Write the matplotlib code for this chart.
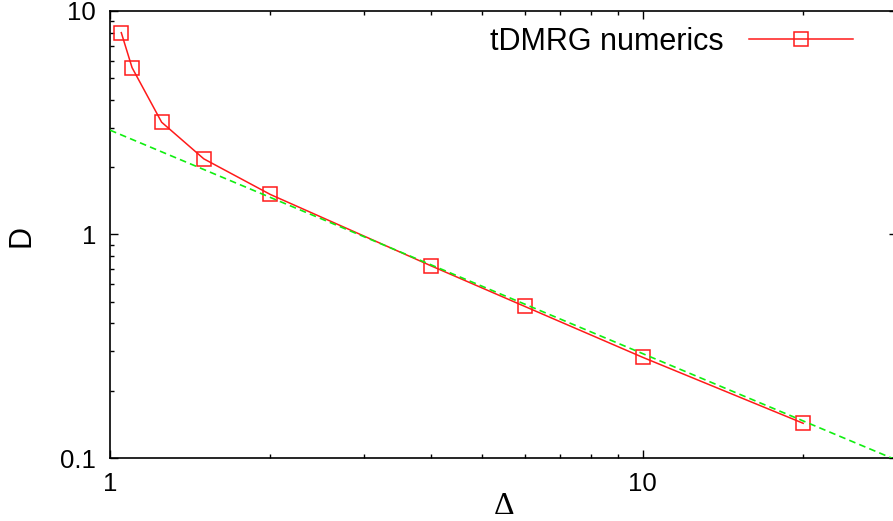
import matplotlib
matplotlib.use("Agg")
import matplotlib.pyplot as plt
import numpy as np
from matplotlib.ticker import LogLocator, FixedLocator, NullFormatter, FixedFormatter

# data
delta = [1.05, 1.1, 1.25, 1.5, 2.0, 4.0, 6.0, 10.0, 20.0]
D_vals = [8.0, 5.58, 3.18, 2.18, 1.51, 0.725, 0.477, 0.282, 0.143]
fit_a = 2.93
fit_x = [1.0, 30.0]
xticks = [1, 10]
xticklabels = ["1", "10"]
yticks = [0.1, 1, 10]
yticklabels = ["0.1", "1", "10"]

W, H = 893, 521
plt.rcParams['font.family'] = ['Liberation Sans', 'DejaVu Sans']
fig = plt.figure(figsize=(W / 100, H / 100), dpi=100)
ax = fig.add_axes([110 / W, 1 - 458 / H, (897 - 110) / W, (458 - 11) / H])

ax.plot(delta, D_vals, color='#ff1a1a', lw=1.1, marker='s', markersize=9.5,
        markerfacecolor='none', markeredgecolor='#ff1a1a', markeredgewidth=1.1,
        label='tDMRG numerics', zorder=3)
fx = np.array(fit_x)
ax.plot(fx, fit_a / fx, color='#11ee11', lw=1.2, linestyle=(0, (4, 2.5)), zorder=4)

ax.set_xscale('log')
ax.set_yscale('log')
ax.set_xlim(1, 30)
ax.set_ylim(0.1, 10)

ax.xaxis.set_major_locator(FixedLocator(xticks))
ax.xaxis.set_major_formatter(FixedFormatter(xticklabels))
ax.yaxis.set_major_locator(FixedLocator(yticks))
ax.yaxis.set_major_formatter(FixedFormatter(yticklabels))
ax.xaxis.set_minor_locator(LogLocator(base=10, subs=np.arange(2, 10)))
ax.yaxis.set_minor_locator(LogLocator(base=10, subs=np.arange(2, 10)))
ax.xaxis.set_minor_formatter(NullFormatter())
ax.yaxis.set_minor_formatter(NullFormatter())

ax.tick_params(which='both', direction='in', top=True, right=True, width=1.0)
ax.tick_params(which='major', length=6, labelsize=18.5)
ax.tick_params(which='minor', length=3)
ax.tick_params(axis='x', which='major', pad=10)
ax.tick_params(axis='y', which='major', pad=10)
for s in ax.spines.values():
    s.set_linewidth(1.2)

fig.text(37 / W, 1 - 236 / H, 'D', rotation=90, ha='right', va='center', fontsize=22)
fig.text(504 / W, 1 - 514 / H, 'Δ', ha='center', va='baseline', fontsize=23,
         family=['Liberation Serif', 'DejaVu Serif'])

leg = ax.legend(loc='upper right', bbox_to_anchor=(853 / W, 1 - 27 / H),
                bbox_transform=fig.transFigure, frameon=False, markerfirst=False,
                fontsize=22, handlelength=3.4, handletextpad=0.85,
                borderpad=0, borderaxespad=0)

fig.savefig('out.png', dpi=100)
